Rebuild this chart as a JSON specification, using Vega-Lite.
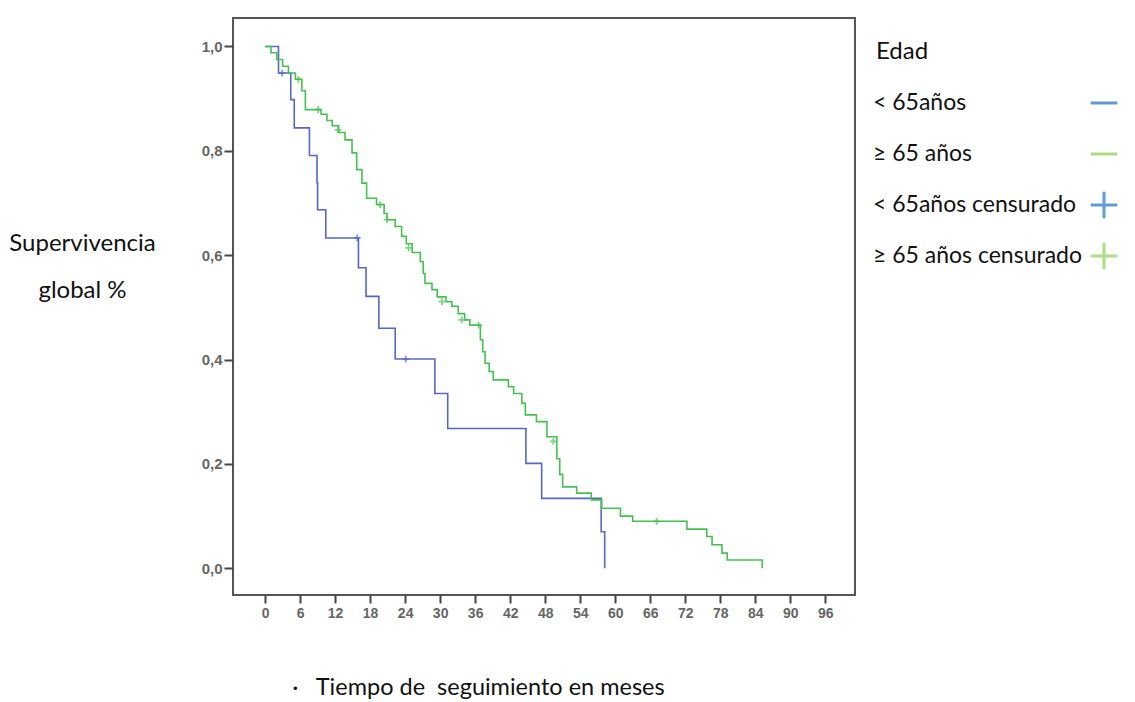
{
  "$schema": "https://vega.github.io/schema/vega-lite/v6.json",
  "width": 622,
  "height": 577,
  "autosize": {"type": "none"},
  "padding": {"left": 233, "top": 18, "right": 280, "bottom": 107},
  "background": "white",
  "config": {
    "view": {"stroke": "#555", "strokeWidth": 2},
    "font": "Lato, sans-serif"
  },
  "datasets": {
    "curve": [
      {"g": "a", "t": 0, "s": 1.0},
      {"g": "a", "t": 2.3, "s": 0.949},
      {"g": "a", "t": 4.4, "s": 0.898},
      {"g": "a", "t": 5.0, "s": 0.844},
      {"g": "a", "t": 7.6, "s": 0.791},
      {"g": "a", "t": 8.9, "s": 0.739},
      {"g": "a", "t": 9.0, "s": 0.687},
      {"g": "a", "t": 10.4, "s": 0.633},
      {"g": "a", "t": 16.0, "s": 0.576},
      {"g": "a", "t": 17.3, "s": 0.521},
      {"g": "a", "t": 19.5, "s": 0.46},
      {"g": "a", "t": 22.3, "s": 0.401},
      {"g": "a", "t": 29.1, "s": 0.335},
      {"g": "a", "t": 31.3, "s": 0.268},
      {"g": "a", "t": 44.7, "s": 0.201},
      {"g": "a", "t": 47.4, "s": 0.134},
      {"g": "a", "t": 57.6, "s": 0.07},
      {"g": "a", "t": 58.2, "s": 0.0},
      {"g": "b", "t": 0, "s": 1.0},
      {"g": "b", "t": 1.0, "s": 0.988},
      {"g": "b", "t": 2.0, "s": 0.975},
      {"g": "b", "t": 3.0, "s": 0.962},
      {"g": "b", "t": 4.0, "s": 0.949},
      {"g": "b", "t": 5.2, "s": 0.937},
      {"g": "b", "t": 6.3, "s": 0.915},
      {"g": "b", "t": 6.9, "s": 0.879},
      {"g": "b", "t": 9.6, "s": 0.87},
      {"g": "b", "t": 10.6, "s": 0.858},
      {"g": "b", "t": 11.5, "s": 0.848},
      {"g": "b", "t": 12.6, "s": 0.835},
      {"g": "b", "t": 13.7, "s": 0.821},
      {"g": "b", "t": 14.9, "s": 0.796},
      {"g": "b", "t": 15.7, "s": 0.764},
      {"g": "b", "t": 16.6, "s": 0.738},
      {"g": "b", "t": 17.4, "s": 0.709},
      {"g": "b", "t": 19.1, "s": 0.697},
      {"g": "b", "t": 20.4, "s": 0.68},
      {"g": "b", "t": 20.9, "s": 0.668},
      {"g": "b", "t": 22.3, "s": 0.655},
      {"g": "b", "t": 23.4, "s": 0.636},
      {"g": "b", "t": 24.2, "s": 0.622},
      {"g": "b", "t": 25.2, "s": 0.605},
      {"g": "b", "t": 26.6, "s": 0.588},
      {"g": "b", "t": 27.1, "s": 0.565},
      {"g": "b", "t": 27.4, "s": 0.546},
      {"g": "b", "t": 28.6, "s": 0.534},
      {"g": "b", "t": 29.5, "s": 0.52},
      {"g": "b", "t": 31.0, "s": 0.511},
      {"g": "b", "t": 32.0, "s": 0.502},
      {"g": "b", "t": 33.1, "s": 0.488},
      {"g": "b", "t": 34.2, "s": 0.476},
      {"g": "b", "t": 35.1, "s": 0.466},
      {"g": "b", "t": 36.9, "s": 0.438},
      {"g": "b", "t": 37.3, "s": 0.415},
      {"g": "b", "t": 37.7, "s": 0.393},
      {"g": "b", "t": 38.4, "s": 0.377},
      {"g": "b", "t": 39.1, "s": 0.361},
      {"g": "b", "t": 41.7, "s": 0.348},
      {"g": "b", "t": 42.6, "s": 0.335},
      {"g": "b", "t": 44.0, "s": 0.316},
      {"g": "b", "t": 44.6, "s": 0.294},
      {"g": "b", "t": 46.5, "s": 0.281},
      {"g": "b", "t": 48.3, "s": 0.252},
      {"g": "b", "t": 50.0, "s": 0.21},
      {"g": "b", "t": 50.5, "s": 0.18},
      {"g": "b", "t": 51.0, "s": 0.156},
      {"g": "b", "t": 53.4, "s": 0.144},
      {"g": "b", "t": 55.9, "s": 0.131},
      {"g": "b", "t": 57.7, "s": 0.115},
      {"g": "b", "t": 60.9, "s": 0.1},
      {"g": "b", "t": 63.0, "s": 0.09},
      {"g": "b", "t": 72.3, "s": 0.075},
      {"g": "b", "t": 75.7, "s": 0.061},
      {"g": "b", "t": 76.6, "s": 0.045},
      {"g": "b", "t": 78.3, "s": 0.029},
      {"g": "b", "t": 79.2, "s": 0.016},
      {"g": "b", "t": 85.2, "s": 0.0}
    ],
    "censor": [
      {"g": "a", "serie": "< 65años censurado", "t": 2.9, "s": 0.949},
      {"g": "a", "serie": "< 65años censurado", "t": 15.8, "s": 0.633},
      {"g": "a", "serie": "< 65años censurado", "t": 24.1, "s": 0.401},
      {"g": "b", "serie": "≥ 65 años censurado", "t": 5.7, "s": 0.937},
      {"g": "b", "serie": "≥ 65 años censurado", "t": 9.1, "s": 0.879},
      {"g": "b", "serie": "≥ 65 años censurado", "t": 12.5, "s": 0.84},
      {"g": "b", "serie": "≥ 65 años censurado", "t": 19.7, "s": 0.697},
      {"g": "b", "serie": "≥ 65 años censurado", "t": 20.9, "s": 0.668},
      {"g": "b", "serie": "≥ 65 años censurado", "t": 24.6, "s": 0.614},
      {"g": "b", "serie": "≥ 65 años censurado", "t": 30.3, "s": 0.511},
      {"g": "b", "serie": "≥ 65 años censurado", "t": 33.7, "s": 0.476},
      {"g": "b", "serie": "≥ 65 años censurado", "t": 36.6, "s": 0.466},
      {"g": "b", "serie": "≥ 65 años censurado", "t": 49.4, "s": 0.243},
      {"g": "b", "serie": "≥ 65 años censurado", "t": 67.1, "s": 0.09}
    ]
  },
  "encoding": {
    "x": {
      "field": "t",
      "type": "quantitative",
      "scale": {"domain": [-5.5, 101.1], "nice": false, "zero": false},
      "axis": {
        "values": [0, 6, 12, 18, 24, 30, 36, 42, 48, 54, 60, 66, 72, 78, 84, 90, 96],
        "grid": false,
        "domain": false,
        "tickSize": 8,
        "tickWidth": 2,
        "tickColor": "#444",
        "labelFont": "Liberation Sans, Arial, sans-serif",
        "labelFontSize": 14,
        "labelFontWeight": "bold",
        "labelColor": "#666",
        "labelPadding": 3,
        "title": "·\u00a0\u00a0\u00a0Tiempo de\u00a0\u00a0seguimiento en meses",
        "titleFont": "Lato, sans-serif",
        "titleFontSize": 23.5,
        "titleFontWeight": "normal",
        "titleColor": "#111",
        "titleX": 245,
        "titleY": 92,
        "titleAlign": "center",
        "titleBaseline": "middle"
      }
    },
    "y": {
      "field": "s",
      "type": "quantitative",
      "scale": {"domain": [-0.0512, 1.0545], "nice": false, "zero": false},
      "axis": {
        "values": [0, 0.2, 0.4, 0.6, 0.8, 1.0],
        "labelExpr": "replace(format(datum.value, '.1f'), '.', ',')",
        "grid": false,
        "domain": false,
        "tickSize": 9,
        "tickWidth": 2,
        "tickColor": "#444",
        "labelFont": "Liberation Sans, Arial, sans-serif",
        "labelFontSize": 15,
        "labelFontWeight": "bold",
        "labelColor": "#666",
        "labelPadding": 2,
        "title": ["Supervivencia", "global %"],
        "titleFont": "Lato, sans-serif",
        "titleFontSize": 24,
        "titleFontWeight": "normal",
        "titleColor": "#111",
        "titleAngle": 0,
        "titleX": -151,
        "titleY": 225,
        "titleAlign": "center",
        "titleBaseline": "middle",
        "titleLineHeight": 47
      }
    }
  },
  "layer": [
    {
      "data": {"name": "curve"},
      "mark": {"type": "line", "interpolate": "step-after", "strokeWidth": 1.6},
      "encoding": {
        "stroke": {
          "field": "g",
          "type": "nominal",
          "scale": {"domain": ["a", "b"], "range": ["#5568c4", "#47c052"]},
          "legend": null
        }
      }
    },
    {
      "data": {"name": "censor"},
      "mark": {"type": "point", "shape": "M-1,0H1M0,-1V1", "filled": false, "size": 45, "strokeWidth": 1.8},
      "encoding": {
        "stroke": {"field": "g", "type": "nominal", "legend": null}
      }
    },
    {
      "data": {"name": "censor"},
      "transform": [{"filter": "datum.t < 0"}],
      "mark": {"type": "point", "filled": false, "strokeWidth": 3},
      "encoding": {
        "color": {
          "field": "serie",
          "type": "nominal",
          "scale": {
            "domain": ["< 65años", "≥ 65 años", "< 65años censurado", "≥ 65 años censurado"],
            "range": ["#1f72c4", "#8ed04f", "#1f72c4", "#8ed04f"]
          },
          "legend": {
            "title": "Edad",
            "orient": "none",
            "legendX": 643,
            "legendY": 22,
            "titleFont": "Lato, sans-serif",
            "titleFontSize": 24,
            "titleFontWeight": "normal",
            "titleColor": "#111",
            "titlePadding": 24,
            "labelFont": "Lato, sans-serif",
            "labelFontSize": 23,
            "labelColor": "#111",
            "labelLimit": 400,
            "gridAlign": "all",
            "rowPadding": 11,
            "symbolSize": 700,
            "symbolStrokeWidth": 3,
            "symbolOffset": 213,
            "labelOffset": -246
          }
        },
        "shape": {
          "field": "serie",
          "type": "nominal",
          "scale": {
            "domain": ["< 65años", "≥ 65 años", "< 65años censurado", "≥ 65 años censurado"],
            "range": ["M-1,0H1", "M-1,0H1", "M-1,0H1M0,-1V1", "M-1,0H1M0,-1V1"]
          }
        }
      }
    }
  ]
}
